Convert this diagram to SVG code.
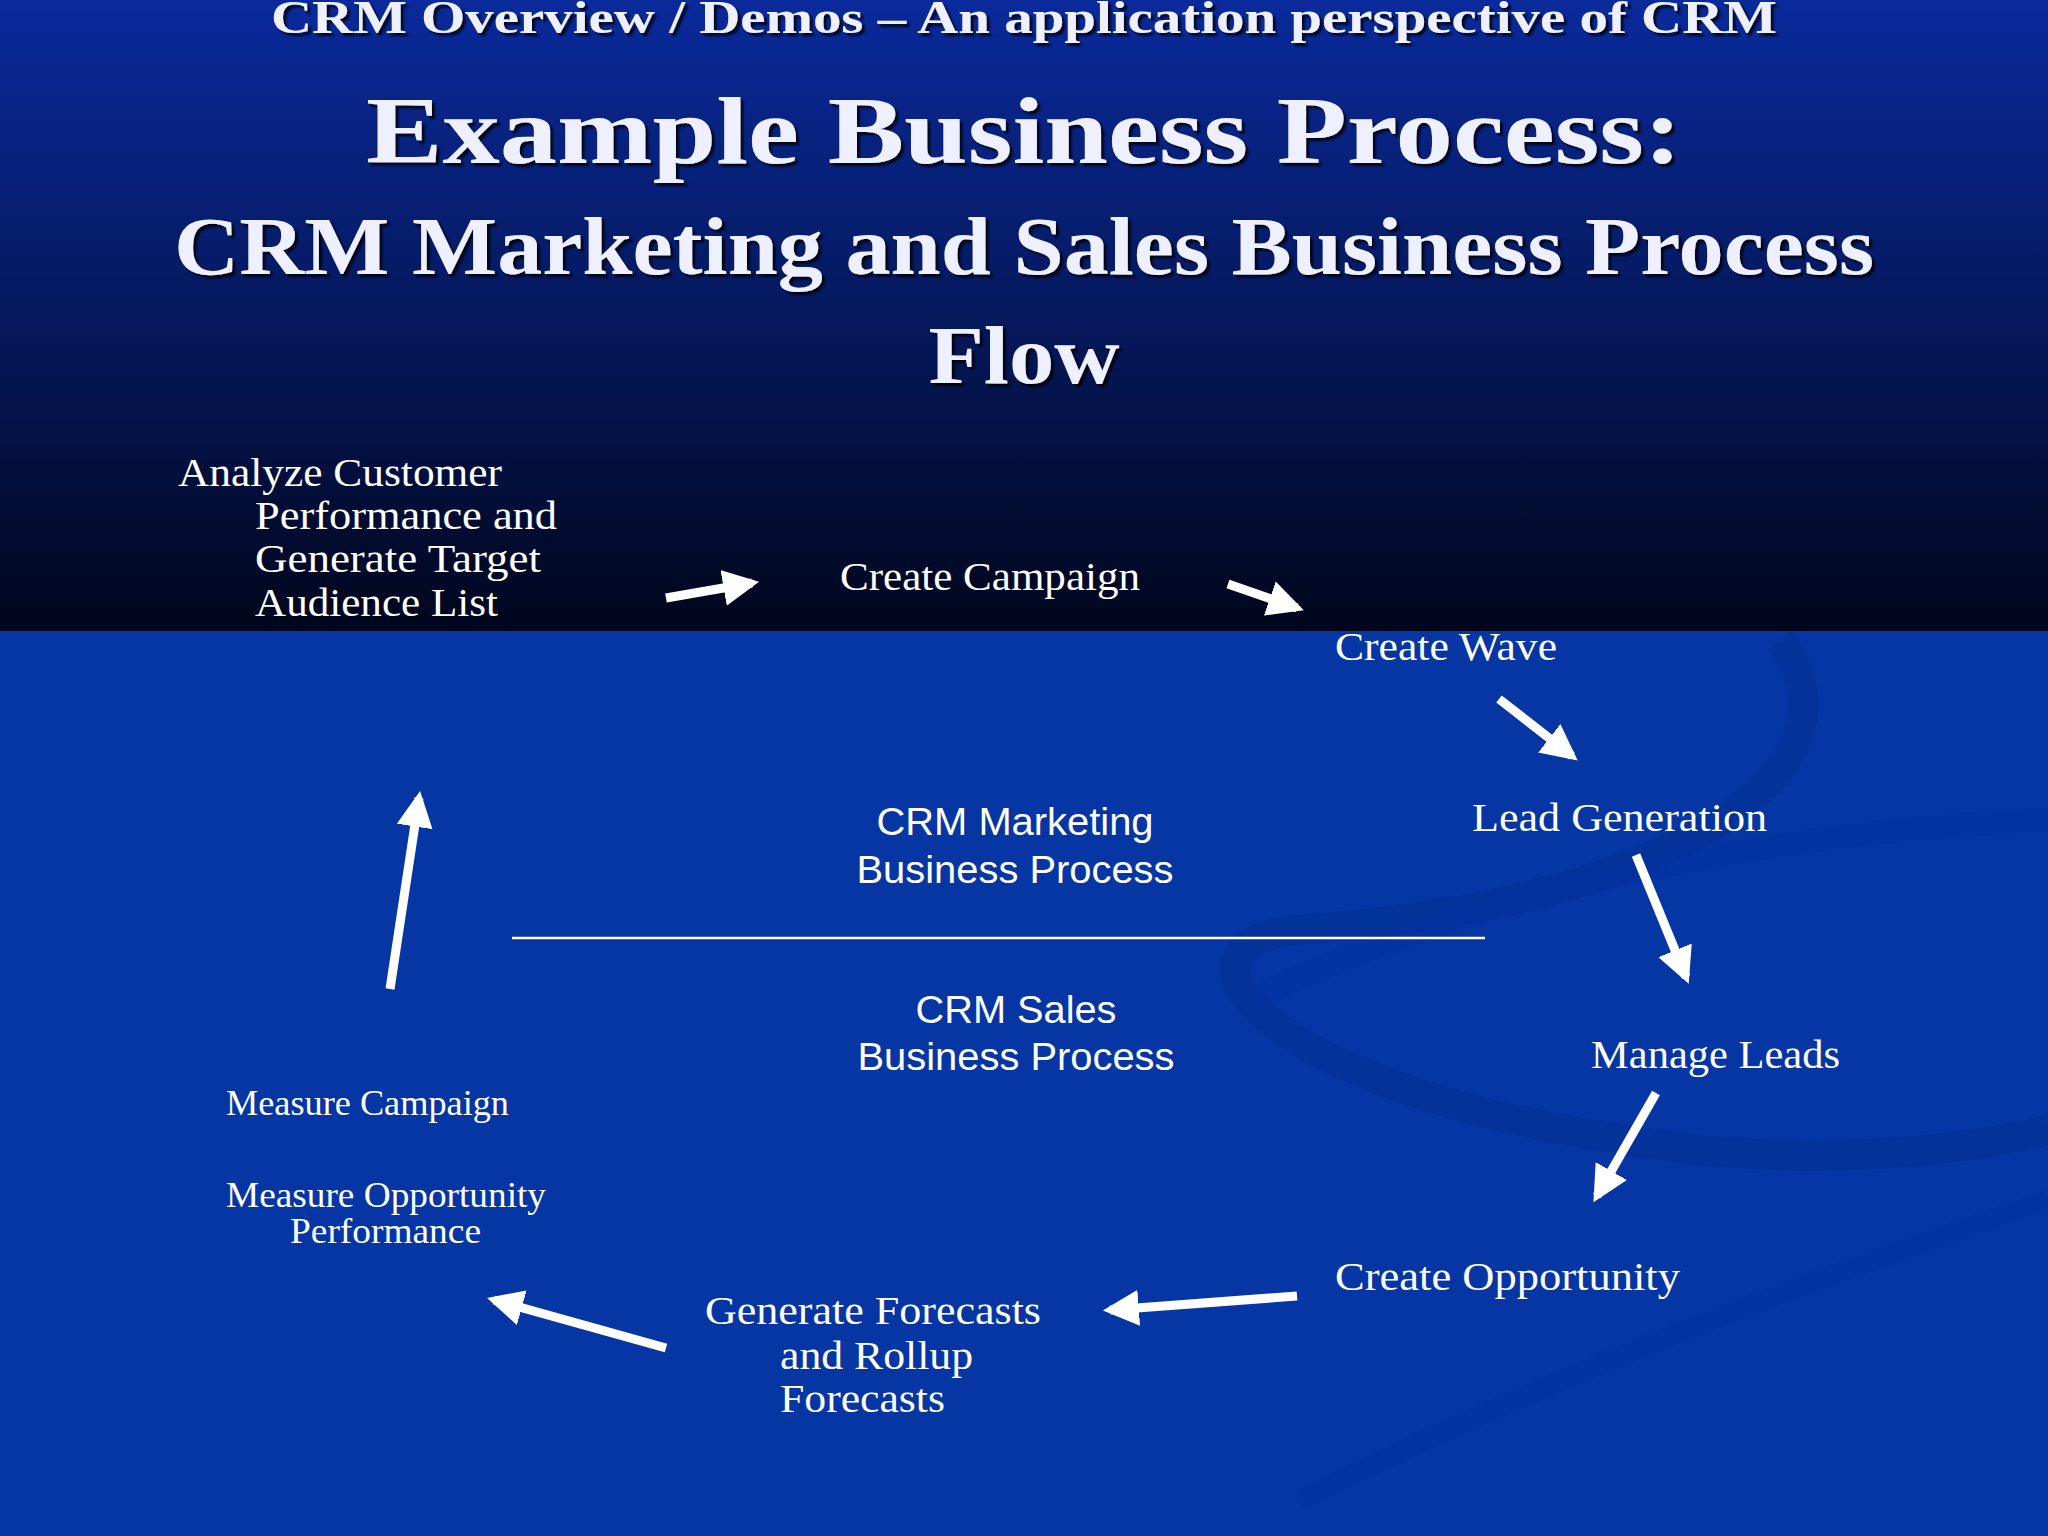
<svg xmlns="http://www.w3.org/2000/svg" width="2048" height="1536" viewBox="0 0 2048 1536">
<defs>
<linearGradient id="top" x1="0" y1="0" x2="0" y2="1">
<stop offset="0" stop-color="#0a2a9c"/><stop offset="0.45" stop-color="#061a63"/><stop offset="1" stop-color="#00061c"/>
</linearGradient>
<marker id="ah" markerWidth="4" markerHeight="4" refX="3.2" refY="2" orient="auto" markerUnits="strokeWidth">
<path d="M0,0 L4,2 L0,4 Z" fill="#fff"/>
</marker>
<filter id="sh"><feDropShadow dx="3" dy="3" stdDeviation="1" flood-color="#000" flood-opacity="0.8"/></filter>
</defs>
<style>
.t{font-family:"Liberation Serif",serif;fill:#eef0ff;font-weight:bold;text-anchor:middle;filter:url(#sh)}
.n{font-family:"Liberation Serif",serif;fill:#fff;font-size:40px}
.s{font-family:"Liberation Serif",serif;fill:#fff;font-size:35px}
.c{font-family:"Liberation Sans",sans-serif;fill:#fff;font-size:38px;text-anchor:middle}
.a{stroke:#fff;stroke-width:9;fill:none;marker-end:url(#ah)}
</style>
<rect width="2048" height="631" fill="url(#top)"/>
<rect y="631" width="2048" height="905" fill="#0536a4"/>
<path d="M1780,640 C1870,760 1700,900 1300,930 C1150,940 1250,1100 1700,1150 C1900,1170 2048,1130 2048,1130" fill="none" stroke="#032c8c" stroke-width="30" opacity="0.35"/>
<path d="M1250,1000 C1500,880 1800,830 2048,820" fill="none" stroke="#0330a0" stroke-width="24" opacity="0.5"/>
<path d="M1300,1500 C1600,1350 1900,1250 2048,1200" fill="none" stroke="#0332a0" stroke-width="20" opacity="0.5"/>
<g id="title">
<text class="t" x="1024" y="33" font-size="47" textLength="1506" lengthAdjust="spacingAndGlyphs">CRM Overview / Demos – An application perspective of CRM</text>
<text class="t" x="1024" y="163" font-size="96" textLength="1316" lengthAdjust="spacingAndGlyphs">Example Business Process:</text>
<text class="t" x="1024" y="274" font-size="82" textLength="1700" lengthAdjust="spacingAndGlyphs">CRM Marketing and Sales Business Process</text>
<text class="t" x="1024" y="383" font-size="82" textLength="191" lengthAdjust="spacingAndGlyphs">Flow</text>
</g>
<g id="analyze">
<text class="n" x="178" y="486" textLength="324" lengthAdjust="spacingAndGlyphs">Analyze Customer</text>
<text class="n" x="255" y="529" textLength="302" lengthAdjust="spacingAndGlyphs">Performance and</text>
<text class="n" x="255" y="572" textLength="286" lengthAdjust="spacingAndGlyphs">Generate Target</text>
<text class="n" x="255" y="616" textLength="243" lengthAdjust="spacingAndGlyphs">Audience List</text></g>
<g id="campaign"><text class="n" x="840" y="590" textLength="300" lengthAdjust="spacingAndGlyphs">Create Campaign</text></g>
<g id="wave"><text class="n" x="1335" y="660" textLength="222" lengthAdjust="spacingAndGlyphs">Create Wave</text></g>
<g id="lead"><text class="n" x="1472" y="831" textLength="295" lengthAdjust="spacingAndGlyphs">Lead Generation</text></g>
<g id="manage"><text class="n" x="1591" y="1068" textLength="249" lengthAdjust="spacingAndGlyphs">Manage Leads</text></g>
<g id="opportunity"><text class="n" x="1335" y="1290" textLength="345" lengthAdjust="spacingAndGlyphs">Create Opportunity</text></g>
<g id="forecast">
<text class="n" x="705" y="1324" textLength="336" lengthAdjust="spacingAndGlyphs">Generate Forecasts</text>
<text class="n" x="780" y="1369" textLength="193" lengthAdjust="spacingAndGlyphs">and Rollup</text>
<text class="n" x="780" y="1412" textLength="165" lengthAdjust="spacingAndGlyphs">Forecasts</text></g>
<g id="measure">
<text class="s" x="226" y="1115" textLength="283" lengthAdjust="spacingAndGlyphs">Measure Campaign</text>
<text class="s" x="226" y="1207" textLength="320" lengthAdjust="spacingAndGlyphs">Measure Opportunity</text>
<text class="s" x="290" y="1243" textLength="191" lengthAdjust="spacingAndGlyphs">Performance</text></g>
<g id="center">
<text class="c" x="1015" y="835" textLength="277" lengthAdjust="spacingAndGlyphs">CRM Marketing</text>
<text class="c" x="1015" y="883" textLength="317" lengthAdjust="spacingAndGlyphs">Business Process</text>
<line x1="512" y1="938" x2="1485" y2="938" stroke="#fff" stroke-width="2.5"/>
<text class="c" x="1016" y="1023" textLength="201" lengthAdjust="spacingAndGlyphs">CRM Sales</text>
<text class="c" x="1016" y="1070" textLength="317" lengthAdjust="spacingAndGlyphs">Business Process</text>
</g>
<g id="connectors">
<line class="a" x1="666" y1="598" x2="752" y2="583"/>
<line class="a" x1="1228" y1="584" x2="1297" y2="608"/>
<line class="a" x1="1499" y1="699" x2="1572" y2="756"/>
<line class="a" x1="1636" y1="855" x2="1686" y2="977"/>
<line class="a" x1="1656" y1="1093" x2="1597" y2="1196"/>
<line class="a" x1="1297" y1="1296" x2="1110" y2="1310"/>
<line class="a" x1="666" y1="1348" x2="494" y2="1300"/>
<line class="a" x1="390" y1="989" x2="419" y2="798"/>
</g>
</svg>
